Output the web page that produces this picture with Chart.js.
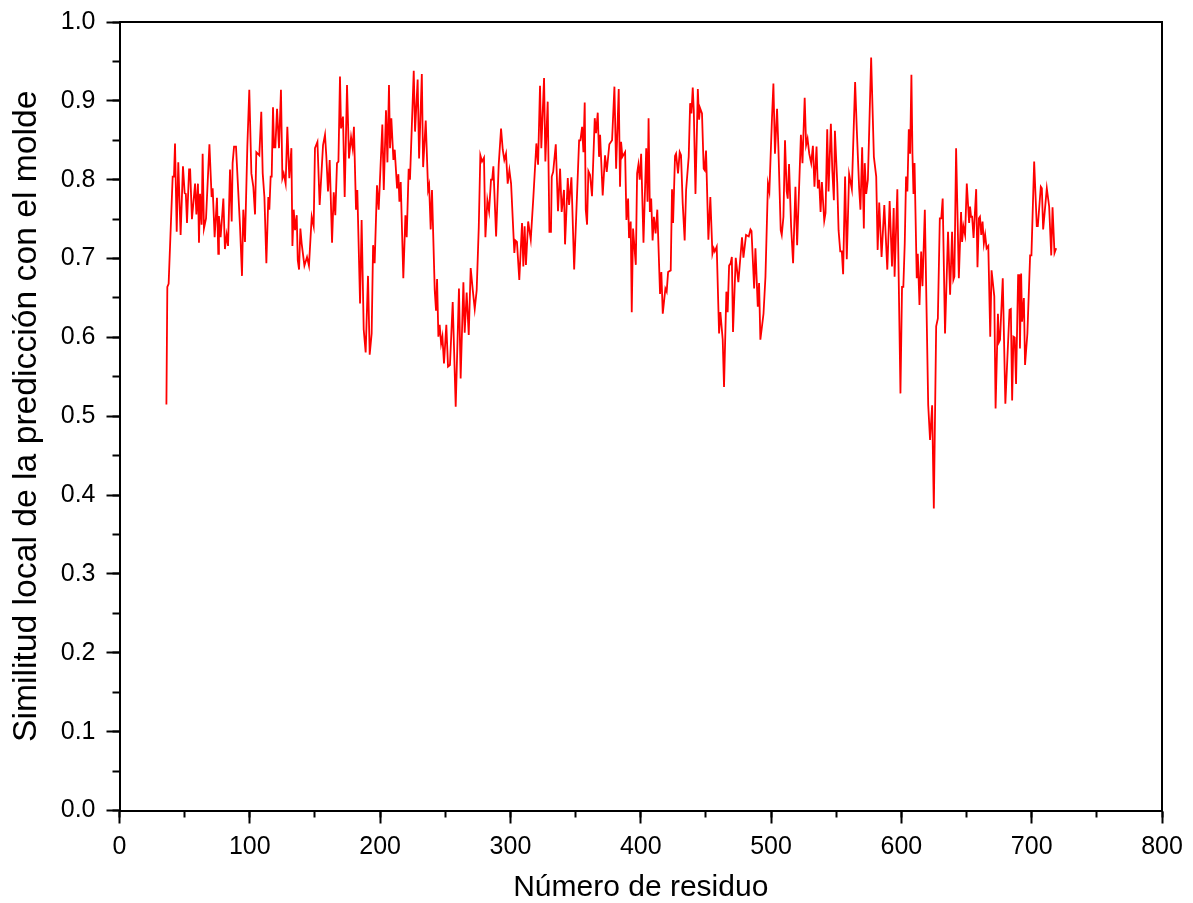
<!DOCTYPE html>
<html>
<head>
<meta charset="utf-8">
<script src="https://cdn.jsdelivr.net/npm/chart.js@4/dist/chart.umd.min.js"></script>
<style>
	body {margin: 0; background: #ffffff;}
	canvas {display: block;}
</style>
</head>
<body>
<canvas id="chart" width="1193" height="903"></canvas>
<script>
// values
var residues = [
	36, 36.7, 37.7, 40.8, 41.8, 42.6, 43.9, 45.1, 46.9, 48.7, 50, 50.9, 51.8, 53.4, 54.2, 55.6, 58, 59, 60.2, 61,
	61.8, 63, 63.8, 64.8, 66.4, 69, 70.7, 71.5, 73, 74.8, 75.8, 76.3, 77.6, 79.7, 80.9, 82.2, 83.3, 84.8, 86.1, 86.8,
	87.9, 89.4, 92.5, 94, 95, 96.3, 98.1, 99.6, 101.2, 102.7, 104, 105, 107.3, 108.8, 109.9, 111.2, 112.7, 114.2, 115, 116,
	116.8, 117.8, 118.6, 119.6, 120.9, 122.4, 123.9, 125, 126, 127.5, 128.8, 130.3, 131.9, 132.7, 133.7, 134.7, 136, 136.8, 137.8, 138.8,
	139.8, 141.9, 143.9, 145.4, 147.5, 149, 150, 151.9, 153.6, 156.2, 157.7, 158.7, 160, 161.3, 163.1, 164.4, 165.6, 166.9, 168, 169.2,
	170, 171.5, 172.8, 174.6, 176.1, 177.7, 178.9, 179.9, 181.5, 182.5, 184.6, 185.8, 187.4, 188.9, 190.7, 192, 193.5, 194.6, 195.8, 197.6,
	198.9, 201.7, 202.8, 204.5, 205.6, 206.8, 207.6, 208.6, 210.2, 211.2, 213, 214, 214.8, 215.8, 217.8, 219.4, 220.4, 221.9, 222.9, 225.8,
	226.8, 228.8, 229.9, 232, 233, 235, 236.8, 237.6, 238.8, 239.8, 241.9, 242.9, 243.7, 244.7, 245.7, 246.8, 247.8, 249, 250.8, 252.1,
	253.6, 255.7, 258, 260.5, 261.8, 263.9, 264.9, 266.4, 268, 269.5, 271.1, 272.6, 274.1, 275.7, 276.9, 278.2, 279.7, 280.8, 282.3, 283.6,
	285.1, 286, 286.9, 289, 291, 292.8, 294.1, 295.3, 296.6, 297.9, 299.2, 300.5, 303, 303.8, 305, 306.8, 308.9, 309.9, 310.9, 311.9,
	313.6, 315.6, 317.6, 319.9, 321.2, 322.7, 323.7, 325.8, 326.8, 328.6, 329.9, 331.1, 331.7, 332.8, 334.8, 336.5, 338.1, 339.3, 341.1, 341.9,
	344, 345, 346.8, 348.9, 352.7, 353.7, 355, 356, 357, 357.8, 358.8, 359.8, 361.1, 362.6, 364.7, 365.7, 367, 368, 368.8, 370.8,
	372.6, 373.9, 375.9, 378, 379.8, 381.1, 383.1, 384.1, 384.9, 385.9, 388, 389, 390.3, 391, 392.3, 393.1, 394.1, 396.2, 397.2, 398.2,
	399.2, 400.3, 402.1, 404.2, 405.2, 406, 407, 408, 409.1, 410.1, 411.4, 412.7, 414.8, 415.8, 416.9, 418.9, 419.9, 421, 423, 424,
	424.8, 426.3, 427.1, 428.6, 429.9, 430.9, 432.2, 433.7, 434.8, 436.8, 437.9, 438.9, 439.9, 440.7, 442, 443.8, 444.8, 445.5, 447, 448.3,
	449.1, 450.1, 451.9, 453.4, 455, 456, 456.8, 458.3, 460.1, 461.1, 462.9, 463.9, 465.7, 466.7, 467.8, 469, 469.9, 470.8, 472.9, 474.9,
	477.7, 478.8, 480.8, 482.9, 484.2, 485, 487, 488, 489.8, 490.8, 491.8, 494.2, 495.7, 497.6, 498.7, 500.7, 501.8, 503, 504.6, 505.6,
	507.4, 508.2, 509.5, 510.7, 512, 512.8, 513.8, 515.4, 516.9, 518.7, 520, 522.9, 524.1, 525.8, 526.9, 528, 529.3, 530.8, 532.1, 533.3,
	534.9, 535.9, 536.9, 538, 539, 540.8, 541.8, 543.1, 544.1, 545.9, 547, 548.2, 549, 550.8, 551.8, 553.1, 554.3, 555.3, 556.8, 558.1,
	559.9, 562, 564.5, 565.8, 567.6, 568.6, 569.9, 571.2, 571.9, 573, 574.3, 576.8, 578.9, 580.7, 581.8, 583, 584.8, 586.9, 589.2, 591,
	592.8, 594.1, 594.8, 596.9, 599.3, 600.5, 601.5, 602.6, 603.6, 604.6, 605.7, 606.7, 607.7, 608.5, 609.3, 610.1, 611.8, 612.6, 613.9, 615.2,
	616.2, 618, 620.6, 622, 623.6, 624.9, 626.7, 628, 629.5, 630.6, 631.7, 633.5, 635.8, 637.4, 638.9, 639.9, 640.7, 642, 644.1, 645.8,
	646.6, 647.6, 648.9, 650.2, 652, 652.7, 653.5, 654.3, 655.4, 657.4, 658.4, 659.5, 660.3, 661.3, 662.3, 663.3, 664.3, 665.4, 666.7, 668.2,
	669.2, 671.3, 672.3, 674.1, 674.9, 675.7, 677.8, 679.8, 683, 684, 685, 686, 687, 688, 689.6, 690.4, 691, 691.9, 692.6, 694,
	694.9, 696.7, 698.8, 699.8, 701.9, 703.9, 704.7, 707, 707.8, 708.8, 711.6, 713.4, 715, 716, 717.5, 718.8
];

var similarity = [
	0.515, 0.664, 0.668, 0.804, 0.804, 0.846, 0.734, 0.822, 0.730, 0.817, 0.783, 0.782, 0.745, 0.813, 0.813, 0.750, 0.795, 0.756, 0.795, 0.720,
	0.782, 0.743, 0.833, 0.738, 0.751, 0.845, 0.778, 0.789, 0.727, 0.777, 0.706, 0.754, 0.727, 0.776, 0.712, 0.730, 0.716, 0.813, 0.747, 0.821,
	0.842, 0.842, 0.740, 0.678, 0.762, 0.721, 0.842, 0.914, 0.808, 0.791, 0.756, 0.835, 0.831, 0.886, 0.808, 0.778, 0.694, 0.778, 0.762, 0.804,
	0.804, 0.892, 0.841, 0.841, 0.890, 0.840, 0.914, 0.802, 0.808, 0.795, 0.867, 0.802, 0.840, 0.716, 0.762, 0.736, 0.755, 0.698, 0.686, 0.738,
	0.719, 0.691, 0.702, 0.691, 0.753, 0.741, 0.840, 0.848, 0.768, 0.844, 0.857, 0.830, 0.785, 0.825, 0.720, 0.784, 0.755, 0.821, 0.823, 0.931,
	0.865, 0.880, 0.778, 0.920, 0.827, 0.854, 0.840, 0.867, 0.762, 0.787, 0.643, 0.749, 0.610, 0.581, 0.678, 0.578, 0.605, 0.717, 0.694, 0.793,
	0.762, 0.870, 0.787, 0.888, 0.822, 0.920, 0.840, 0.878, 0.825, 0.838, 0.789, 0.807, 0.772, 0.797, 0.675, 0.755, 0.727, 0.814, 0.800, 0.938,
	0.861, 0.927, 0.827, 0.934, 0.816, 0.875, 0.787, 0.793, 0.737, 0.787, 0.660, 0.634, 0.674, 0.601, 0.616, 0.592, 0.601, 0.567, 0.616, 0.563,
	0.565, 0.645, 0.512, 0.662, 0.548, 0.670, 0.606, 0.657, 0.603, 0.688, 0.660, 0.636, 0.660, 0.740, 0.831, 0.823, 0.828, 0.727, 0.774, 0.760,
	0.800, 0.800, 0.817, 0.728, 0.819, 0.865, 0.838, 0.825, 0.833, 0.795, 0.812, 0.795, 0.707, 0.723, 0.721, 0.673, 0.745, 0.690, 0.741, 0.692,
	0.747, 0.724, 0.778, 0.846, 0.819, 0.919, 0.840, 0.929, 0.823, 0.899, 0.734, 0.734, 0.804, 0.810, 0.845, 0.760, 0.814, 0.759, 0.787, 0.718,
	0.802, 0.768, 0.803, 0.686, 0.850, 0.850, 0.867, 0.835, 0.898, 0.762, 0.743, 0.811, 0.806, 0.779, 0.878, 0.859, 0.885, 0.829, 0.857, 0.780,
	0.831, 0.810, 0.845, 0.850, 0.918, 0.814, 0.915, 0.791, 0.848, 0.829, 0.835, 0.749, 0.776, 0.726, 0.747, 0.632, 0.738, 0.692, 0.808, 0.819,
	0.800, 0.833, 0.720, 0.840, 0.772, 0.878, 0.759, 0.776, 0.723, 0.753, 0.732, 0.762, 0.655, 0.683, 0.630, 0.662, 0.658, 0.683, 0.685, 0.788,
	0.745, 0.830, 0.833, 0.808, 0.835, 0.831, 0.770, 0.723, 0.787, 0.829, 0.897, 0.884, 0.917, 0.888, 0.782, 0.915, 0.876, 0.891, 0.884, 0.814,
	0.812, 0.837, 0.724, 0.778, 0.706, 0.713, 0.709, 0.715, 0.605, 0.632, 0.597, 0.537, 0.658, 0.632, 0.691, 0.694, 0.702, 0.607, 0.701, 0.670,
	0.727, 0.701, 0.730, 0.728, 0.737, 0.735, 0.662, 0.713, 0.639, 0.669, 0.597, 0.630, 0.677, 0.795, 0.785, 0.878, 0.922, 0.833, 0.890, 0.842,
	0.736, 0.730, 0.753, 0.850, 0.785, 0.776, 0.820, 0.740, 0.694, 0.791, 0.717, 0.857, 0.821, 0.904, 0.844, 0.852, 0.833, 0.821, 0.843, 0.791,
	0.842, 0.789, 0.800, 0.759, 0.797, 0.748, 0.758, 0.864, 0.785, 0.871, 0.812, 0.774, 0.862, 0.795, 0.736, 0.709, 0.709, 0.680, 0.804, 0.699,
	0.807, 0.788, 0.924, 0.863, 0.789, 0.762, 0.841, 0.738, 0.821, 0.782, 0.800, 0.955, 0.829, 0.804, 0.711, 0.771, 0.702, 0.768, 0.686, 0.773,
	0.690, 0.764, 0.677, 0.788, 0.529, 0.664, 0.664, 0.720, 0.804, 0.785, 0.864, 0.833, 0.933, 0.833, 0.782, 0.821, 0.675, 0.706, 0.641, 0.709,
	0.665, 0.762, 0.514, 0.470, 0.514, 0.383, 0.614, 0.624, 0.751, 0.751, 0.776, 0.605, 0.734, 0.654, 0.734, 0.673, 0.677, 0.840, 0.675, 0.759,
	0.721, 0.741, 0.730, 0.795, 0.745, 0.766, 0.753, 0.753, 0.726, 0.788, 0.689, 0.751, 0.753, 0.730, 0.747, 0.719, 0.730, 0.713, 0.716, 0.601,
	0.685, 0.652, 0.510, 0.630, 0.594, 0.597, 0.675, 0.516, 0.635, 0.636, 0.520, 0.601, 0.600, 0.541, 0.679, 0.679, 0.586, 0.681, 0.620, 0.650,
	0.565, 0.605, 0.704, 0.704, 0.823, 0.741, 0.741, 0.791, 0.789, 0.737, 0.789, 0.766, 0.704, 0.765, 0.707, 0.713
];

var xTitle = 'Número de residuo';
var yTitle = 'Similitud local de la predicción con el molde';

var fontFamily = '"Liberation Sans", Arial, sans-serif';

var points = residues.map(function (r, i) {return {x: r, y: similarity[i]}});

// plot box in the reference: left 119.5, right 1162, top 22, bottom 810.5
// the label overhang padding is zeroed so layout.padding alone sets the box
function fixWidth(w) {return function (scale) {scale.width = w; scale.paddingTop = 0; scale.paddingBottom = 0}}
function fixHeight(h) {return function (scale) {scale.height = h; scale.paddingLeft = 0; scale.paddingRight = 0}}

var axisLine = {display: true, color: '#000000', width: 2};

new Chart(document.getElementById('chart'),
{
	type: 'line',
	data:
	{
		datasets:
		[{
			data: points,
			borderColor: '#ff0000',
			borderWidth: 1.8,
			pointRadius: 0,
			tension: 0,
			fill: false
		}]
	},
	options:
	{
		responsive: false,
		animation: false,
		devicePixelRatio: 1,
		layout: {padding: {left: 0, top: 22, right: 31, bottom: 0}},
		plugins:
		{
			legend: {display: false},
			tooltip: {enabled: false}
		},
		scales:
		{
			// minor ticks, placed right on the axis lines
			xMinor:
			{
				type: 'linear', position: 'bottom', min: 0, max: 800,
				ticks: {stepSize: 50, display: false},
				grid: {drawOnChartArea: false, tickLength: 7, tickWidth: 2, tickColor: '#000000'},
				border: {display: false},
				afterFit: fixHeight(0)
			},
			yMinor:
			{
				type: 'linear', position: 'left', min: 0, max: 1,
				ticks: {stepSize: 0.05, display: false},
				grid: {drawOnChartArea: false, tickLength: 7, tickWidth: 2, tickColor: '#000000'},
				border: {display: false},
				afterFit: fixWidth(0)
			},
			x:
			{
				type: 'linear', position: 'bottom', min: 0, max: 800,
				ticks: {stepSize: 100, color: '#000000', padding: 8.5, font: {family: fontFamily, size: 25}, maxRotation: 0},
				grid: {drawOnChartArea: false, tickLength: 13, tickWidth: 2, tickColor: '#000000'},
				border: axisLine,
				title: {display: true, text: xTitle, color: '#000000', padding: 0, font: {family: fontFamily, size: 30, lineHeight: 1}},
				afterFit: fixHeight(92.5)
			},
			y:
			{
				type: 'linear', position: 'left', min: 0, max: 1,
				ticks:
				{
					stepSize: 0.1, color: '#000000', padding: 11, font: {family: fontFamily, size: 25},
					callback: function (v) {return v.toFixed(1)}
				},
				grid: {drawOnChartArea: false, tickLength: 13, tickWidth: 2, tickColor: '#000000'},
				border: axisLine,
				title: {display: true, text: yTitle, color: '#000000', padding: {top: 10}, font: {family: fontFamily, size: 33.7, lineHeight: 1}},
				afterFit: fixWidth(119.5)
			},
			// frame on top and right, no ticks
			xTop:
			{
				type: 'linear', position: 'top', min: 0, max: 800,
				ticks: {display: false},
				grid: {display: false, drawTicks: false},
				border: axisLine,
				afterFit: fixHeight(0)
			},
			yRight:
			{
				type: 'linear', position: 'right', min: 0, max: 1,
				ticks: {display: false},
				grid: {display: false, drawTicks: false},
				border: axisLine,
				afterFit: fixWidth(0)
			}
		}
	}
});
</script>
</body>
</html>
